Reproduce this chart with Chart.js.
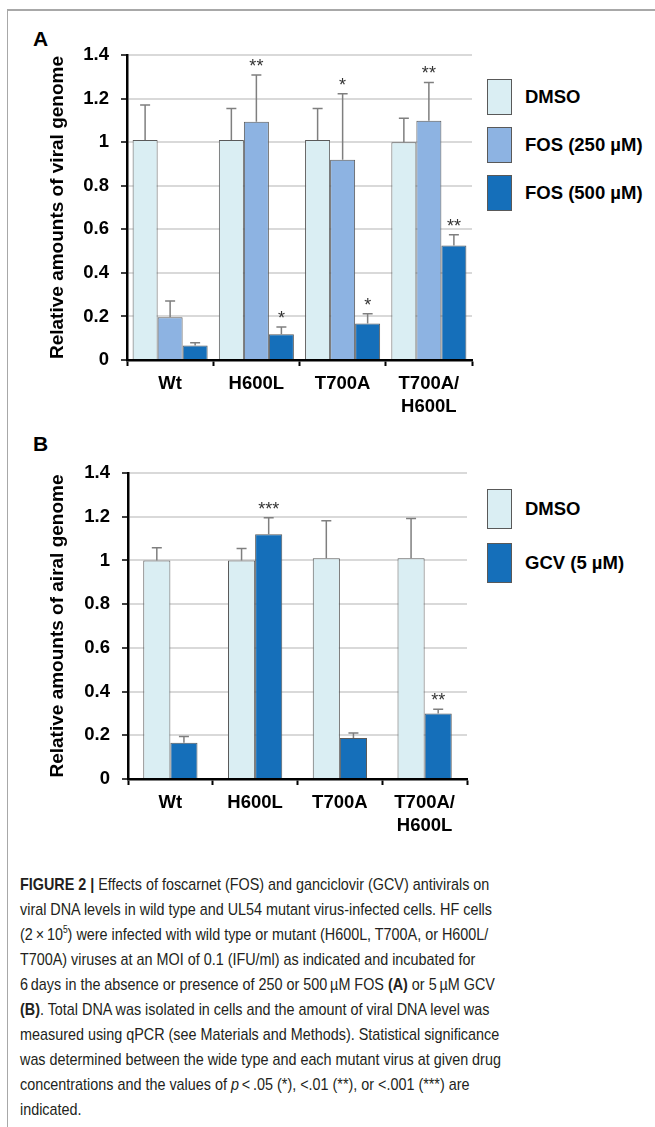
<!DOCTYPE html>
<html>
<head>
<meta charset="utf-8">
<script src="https://cdn.jsdelivr.net/npm/chart.js@4.4.1/dist/chart.umd.min.js"></script>
<style>
  body { margin: 0; background: #fff; width: 655px; height: 1127px; position: relative; overflow: hidden; font-family: "Liberation Sans", Arial, sans-serif; }
  .frame-top { position: absolute; left: 7px; top: 9px; width: 648px; height: 2px; background: #a8a8a8; }
  .frame-left { position: absolute; left: 7px; top: 9px; width: 1px; height: 1118px; background: #a8a8a8; }
  .panel { position: absolute; left: 0; }
  .tag { position: absolute; left: 33px; font: bold 21px "Liberation Sans", Arial, sans-serif; color: #000; }
  .legend { position: absolute; left: 487px; }
  .legend .item { position: absolute; left: 0; width: 170px; }
  .legend .box { position: absolute; left: 0; top: 0; width: 23px; border: 1px solid #595959; }
  .legend .lab { position: absolute; left: 38px; font: bold 18.5px "Liberation Sans", Arial, sans-serif; color: #000; white-space: nowrap; }
  .caption { position: absolute; left: 20px; top: 872px; color: #231f20; font-family: "Liberation Sans", Arial, sans-serif; font-size: 17px; line-height: 25px; white-space: nowrap; transform-origin: 0 0; }
  .caption span { display: inline-block; }
</style>
</head>
<body>
<div class="frame-top"></div>
<div class="frame-left"></div>

<div class="tag" style="top:27px">A</div>
<div class="panel" style="top:0; width:480px; height:430px;"><canvas id="chartA"></canvas></div>
<div class="legend" id="legendA" style="top:79px"></div>

<div class="tag" style="top:432px">B</div>
<div class="panel" style="top:430px; width:475px; height:419px;"><canvas id="chartB"></canvas></div>
<div class="legend" id="legendB" style="top:489px"></div>

<div class="caption" id="caption">
<span><b>FIGURE 2 |</b> Effects of foscarnet (FOS) and ganciclovir (GCV) antivirals on</span><br>
<span id="capRef">viral DNA levels in wild type and UL54 mutant virus-infected cells. HF cells</span><br>
<span>(2&thinsp;×&thinsp;10<sup style="font-size:10px;line-height:0">5</sup>) were infected with wild type or mutant (H600L, T700A, or H600L/</span><br>
<span>T700A) viruses at an MOI of 0.1 (IFU/ml) as indicated and incubated for</span><br>
<span>6&thinsp;days in the absence or presence of 250 or 500&thinsp;µM FOS <b>(A)</b> or 5&thinsp;µM GCV</span><br>
<span><b>(B)</b>. Total DNA was isolated in cells and the amount of viral DNA level was</span><br>
<span>measured using qPCR (see Materials and Methods). Statistical significance</span><br>
<span>was determined between the wide type and each mutant virus at given drug</span><br>
<span>concentrations and the values of <i>p</i>&thinsp;&lt;&thinsp;.05 (*), &lt;.01 (**), or &lt;.001 (***) are</span><br>
<span>indicated.</span>
</div>

<script>
// categories and ticks
const categories = ['Wt', 'H600L', 'T700A', ['T700A/', 'H600L']];
const yTicks = ['0', '0.2', '0.4', '0.6', '0.8', '1', '1.2', '1.4'];

// Panel A (FOS)
const seriesA = ['DMSO', 'FOS (250 µM)', 'FOS (500 µM)'];
const dmsoA = [1.01, 1.01, 1.01, 1.00];
const fos250 = [0.196, 1.094, 0.919, 1.098];
const fos500 = [0.066, 0.118, 0.168, 0.526];
const dmsoAErr = [0.16, 0.145, 0.145, 0.11];
const fos250Err = [0.075, 0.214, 0.303, 0.176];
const fos500Err = [0.013, 0.033, 0.044, 0.049];
const fos250Sig = ['', '**', '*', '**'];
const fos500Sig = ['', '*', '*', '**'];

// Panel B (GCV)
const seriesB = ['DMSO', 'GCV (5 µM)'];
const dmsoB = [1.00, 1.00, 1.01, 1.01];
const gcv = [0.166, 1.12, 0.188, 0.30];
const dmsoBErr = [0.058, 0.055, 0.171, 0.182];
const gcvErr = [0.029, 0.075, 0.022, 0.019];
const gcvSig = ['', '***', '', '**'];

const colDmso = '#daeef3';
const col250 = '#8db3e2';
const col500 = '#156fba';
const edge = '#5a5a5a';

// error bars (upward only) + significance stars
const errorBars = {
  id: 'errorBars',
  afterDatasetsDraw(chart) {
    const ctx = chart.ctx;
    const y = chart.scales.y;
    chart.data.datasets.forEach((ds, di) => {
      const meta = chart.getDatasetMeta(di);
      meta.data.forEach((bar, i) => {
        const top = y.getPixelForValue(ds.data[i] + ds.err[i]);
        const base = y.getPixelForValue(ds.data[i]);
        ctx.save();
        ctx.strokeStyle = '#7f7f7f';
        ctx.lineWidth = 1.5;
        ctx.beginPath();
        ctx.moveTo(bar.x, base);
        ctx.lineTo(bar.x, top);
        ctx.moveTo(bar.x - 5, top);
        ctx.lineTo(bar.x + 5, top);
        ctx.stroke();
        const s = ds.sig ? ds.sig[i] : '';
        if (s) {
          ctx.fillStyle = '#333';
          ctx.font = '18px "Liberation Sans", Arial, sans-serif';
          ctx.textAlign = 'center';
          ctx.textBaseline = 'alphabetic';
          ctx.fillText(s, bar.x, top - 3);
        }
        ctx.restore();
      });
    });
  }
};

function makeChart(id, datasets, catPct, yTitle, yWidth) {
  return new Chart(document.getElementById(id), {
    type: 'bar',
    data: { labels: categories, datasets: datasets },
    options: {
      responsive: true,
      maintainAspectRatio: false,
      animation: false,
      devicePixelRatio: 1,
      layout: { padding: { top: id === 'chartA' ? 55 : 43, right: 8, left: 0, bottom: 0 } },
      datasets: { bar: { categoryPercentage: catPct, barPercentage: 1.0, borderWidth: 1, borderColor: edge } },
      plugins: { legend: { display: false }, tooltip: { enabled: false } },
      scales: {
        x: {
          grid: { drawOnChartArea: false, drawTicks: true, tickLength: 6, tickColor: '#000', tickWidth: 2, offset: true },
          border: { color: '#000', width: 2.5 },
          ticks: { color: '#000', padding: 6, font: { family: '"Liberation Sans", Arial, sans-serif', size: 18.5, weight: 'bold', lineHeight: 1.25 }, maxRotation: 0, autoSkip: false },
          afterFit(s) { s.height = 70; }
        },
        y: {
          min: 0, max: 1.4,
          ticks: {
            stepSize: 0.2, color: '#000', padding: 12,
            font: { family: '"Liberation Sans", Arial, sans-serif', size: 18.5, weight: 'bold' },
            callback: (v, i) => yTicks[i]
          },
          grid: { color: '#d9d9d9', lineWidth: 2, tickLength: 6, tickColor: '#000', tickWidth: 1.5 },
          border: { color: '#000', width: 2.5 },
          title: {
            display: true, text: yTitle, color: '#000', padding: { top: 46, bottom: 0 },
            font: { family: '"Liberation Sans", Arial, sans-serif', size: 19, weight: 'bold', lineHeight: 1.2 }
          },
          afterFit(s) { s.width = yWidth; }
        }
      }
    },
    plugins: [errorBars]
  });
}

makeChart('chartA', [
  { label: seriesA[0], data: dmsoA, err: dmsoAErr, backgroundColor: colDmso },
  { label: seriesA[1], data: fos250, err: fos250Err, sig: fos250Sig, backgroundColor: col250 },
  { label: seriesA[2], data: fos500, err: fos500Err, sig: fos500Sig, backgroundColor: col500 }
], 0.87, 'Relative amounts of viral genome', 127);

makeChart('chartB', [
  { label: seriesB[0], data: dmsoB, err: dmsoBErr, backgroundColor: colDmso },
  { label: seriesB[1], data: gcv, err: gcvErr, sig: gcvSig, backgroundColor: col500 }
], 0.64, 'Relative amounts of airal genome', 128);

// HTML legends
function buildLegend(elId, names, colors, boxH, step) {
  const el = document.getElementById(elId);
  names.forEach((n, i) => {
    const it = document.createElement('div');
    it.className = 'item';
    it.style.top = (i * step) + 'px';
    it.innerHTML = '<div class="box" style="height:' + (boxH - 2) + 'px;background:' + colors[i] + '"></div>' +
      '<div class="lab" style="top:' + (boxH / 2 - 11) + 'px">' + n + '</div>';
    el.appendChild(it);
  });
}
buildLegend('legendA', seriesA, [colDmso, col250, col500], 36, 48);
buildLegend('legendB', seriesB, [colDmso, col500], 40, 54);

// caption set in a condensed face in the original: squeeze to the same line width
const cap = document.getElementById('caption');
const w = document.getElementById('capRef').getBoundingClientRect().width;
cap.style.transform = 'scaleX(' + (472 / w) + ')';
</script>
</body>
</html>
